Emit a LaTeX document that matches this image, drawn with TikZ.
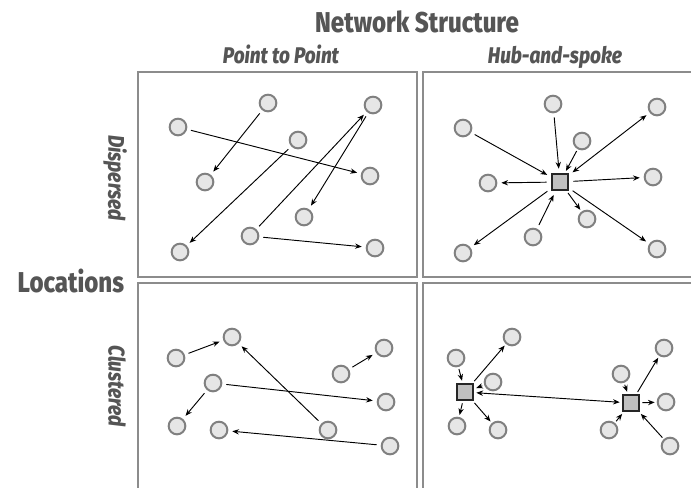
\documentclass[tikz,border=0pt]{standalone}
\usepackage{fontspec}
\usetikzlibrary{arrows.meta}
\newfontfamily\headfont[FakeStretch=0.84,BoldFont={Fira Sans ExtraBold},BoldItalicFont={Fira Sans ExtraBold Italic}]{Fira Sans}
\definecolor{framegray}{RGB}{140,140,140}
\definecolor{labelgray}{RGB}{85,85,85}
\definecolor{sitefill}{RGB}{230,230,230}
\definecolor{siteline}{RGB}{128,128,128}
\definecolor{hubfill}{RGB}{192,192,192}
\tikzset{
  site/.style={circle,draw=siteline,fill=sitefill,line width=1.5pt,minimum size=12.5pt,inner sep=0pt},
  hub/.style={rectangle,draw=black!85,fill=hubfill,line width=1.5pt,minimum size=12.5pt,inner sep=0pt},
  panel/.style={draw=framegray,line width=1.5pt},
  link/.style={-{Stealth[length=5pt,width=4pt]},line width=0.7pt,shorten <=3pt,shorten >=3pt},
  twoway/.style={{Stealth[length=5pt,width=4pt]}-{Stealth[length=5pt,width=4pt]}},
  biglabel/.style={font=\headfont\bfseries\fontsize{21.5}{24}\selectfont,text=labelgray},
  smalllabel/.style={font=\headfont\bfseries\itshape\fontsize{17}{20}\selectfont,text=labelgray},
}
\begin{document}
\begin{tikzpicture}[x=0.75pt,y=-0.75pt]
      \clip (0,0) rectangle (691,487);
      % panels
      \draw[panel] (137.5,72) rectangle (416.5,277);
      \draw[panel] (422.5,72) rectangle (700,277);
      \draw[panel] (137.5,283) rectangle (416.5,500);
      \draw[panel] (422.5,283) rectangle (700,500);
      % labels
      \node[biglabel,anchor=base] (net) at (417,32) {Network Structure};
      \node[smalllabel,anchor=base] (ptp) at (281,63) {Point to Point};
      \node[smalllabel,anchor=base] (hns) at (555,63) {Hub-and-spoke};
      \node[biglabel,anchor=base west] (loc) at (13,292) {Locations};
      \node[smalllabel,rotate=-90] (dis) at (115,178) {Dispersed};
      \node[smalllabel,rotate=-90] (clu) at (117,386) {Clustered};
      % point to point, dispersed
      \draw
        (268,103) node[site] (a1){}
        (178,127) node[site] (a2){}
        (298,140) node[site] (a3){}
        (373,105) node[site] (a4){}
        (205,182) node[site] (a5){}
        (370,176) node[site] (a6){}
        (304,217) node[site] (a7){}
        (250,236) node[site] (a8){}
        (180,252) node[site] (a9){}
        (375,248) node[site] (a10){};
      \begin{scope}[link]
        \draw (a1) to (a5);
        \draw (a2) to (a6);
        \draw (a3) to (a9);
        \draw (a8) to (a4);
        \draw (a4) to (a7);
        \draw (a8) to (a10);
      \end{scope}
      % hub-and-spoke, dispersed
      \draw
        (560,182) node[hub] (h){}
        (463,128) node[site] (b1){}
        (553,104) node[site] (b2){}
        (582,141) node[site] (b3){}
        (657,107) node[site] (b4){}
        (488,183) node[site] (b5){}
        (653,177) node[site] (b6){}
        (587,219) node[site] (b7){}
        (533,237) node[site] (b8){}
        (463,253) node[site] (b9){}
        (657,249) node[site] (b10){};
      \begin{scope}[link]
        \draw (b1) to (h);
        \draw (b2) to (h);
        \draw[shorten <=1.5pt,shorten >=1.5pt] (b3) to (h);
        \draw[twoway] (h) to (b4);
        \draw (h) to (b5);
        \draw (h) to (b6);
        \draw[shorten <=1.5pt,shorten >=1.5pt] (h) to (b7);
        \draw (b8) to (h);
        \draw (h) to (b9);
        \draw (h) to (b10);
      \end{scope}
      % point to point, clustered
      \draw
        (176,358) node[site] (c1){}
        (232,337) node[site] (c2){}
        (213,383) node[site] (c3){}
        (177,426) node[site] (c4){}
        (219,430) node[site] (c5){}
        (328,430) node[site] (c6){}
        (341,374) node[site] (c7){}
        (384,348) node[site] (c8){}
        (386,402) node[site] (c9){}
        (390,446) node[site] (c10){};
      \begin{scope}[link]
        \draw (c1) to (c2);
        \draw (c6) to (c2);
        \draw (c3) to (c9);
        \draw (c3) to (c4);
        \draw (c10) to (c5);
        \draw (c7) to (c8);
      \end{scope}
      % hub-and-spoke, clustered
      \draw
        (465,392) node[hub] (hA){}
        (631,403) node[hub] (hB){}
        (456,358) node[site] (d1){}
        (512,337) node[site] (d2){}
        (493,382) node[site] (d3){}
        (457,426) node[site] (d4){}
        (498,430) node[site] (d5){}
        (621,374) node[site] (d6){}
        (664,348) node[site] (d7){}
        (666,402) node[site] (d8){}
        (609,430) node[site] (d9){}
        (670,446) node[site] (d10){};
      \begin{scope}[link,shorten <=1.5pt,shorten >=1.5pt]
        \draw (d1) to (hA);
        \draw (hA) to (d2);
        \draw (d3) to (hA);
        \draw (hA) to (d4);
        \draw (hA) to (d5);
        \draw[twoway] (hA) to (hB);
        \draw (d6) to (hB);
        \draw (hB) to (d7);
        \draw (hB) to (d8);
        \draw (d9) to (hB);
        \draw (d10) to (hB);
      \end{scope}
    \end{tikzpicture}
\end{document}
